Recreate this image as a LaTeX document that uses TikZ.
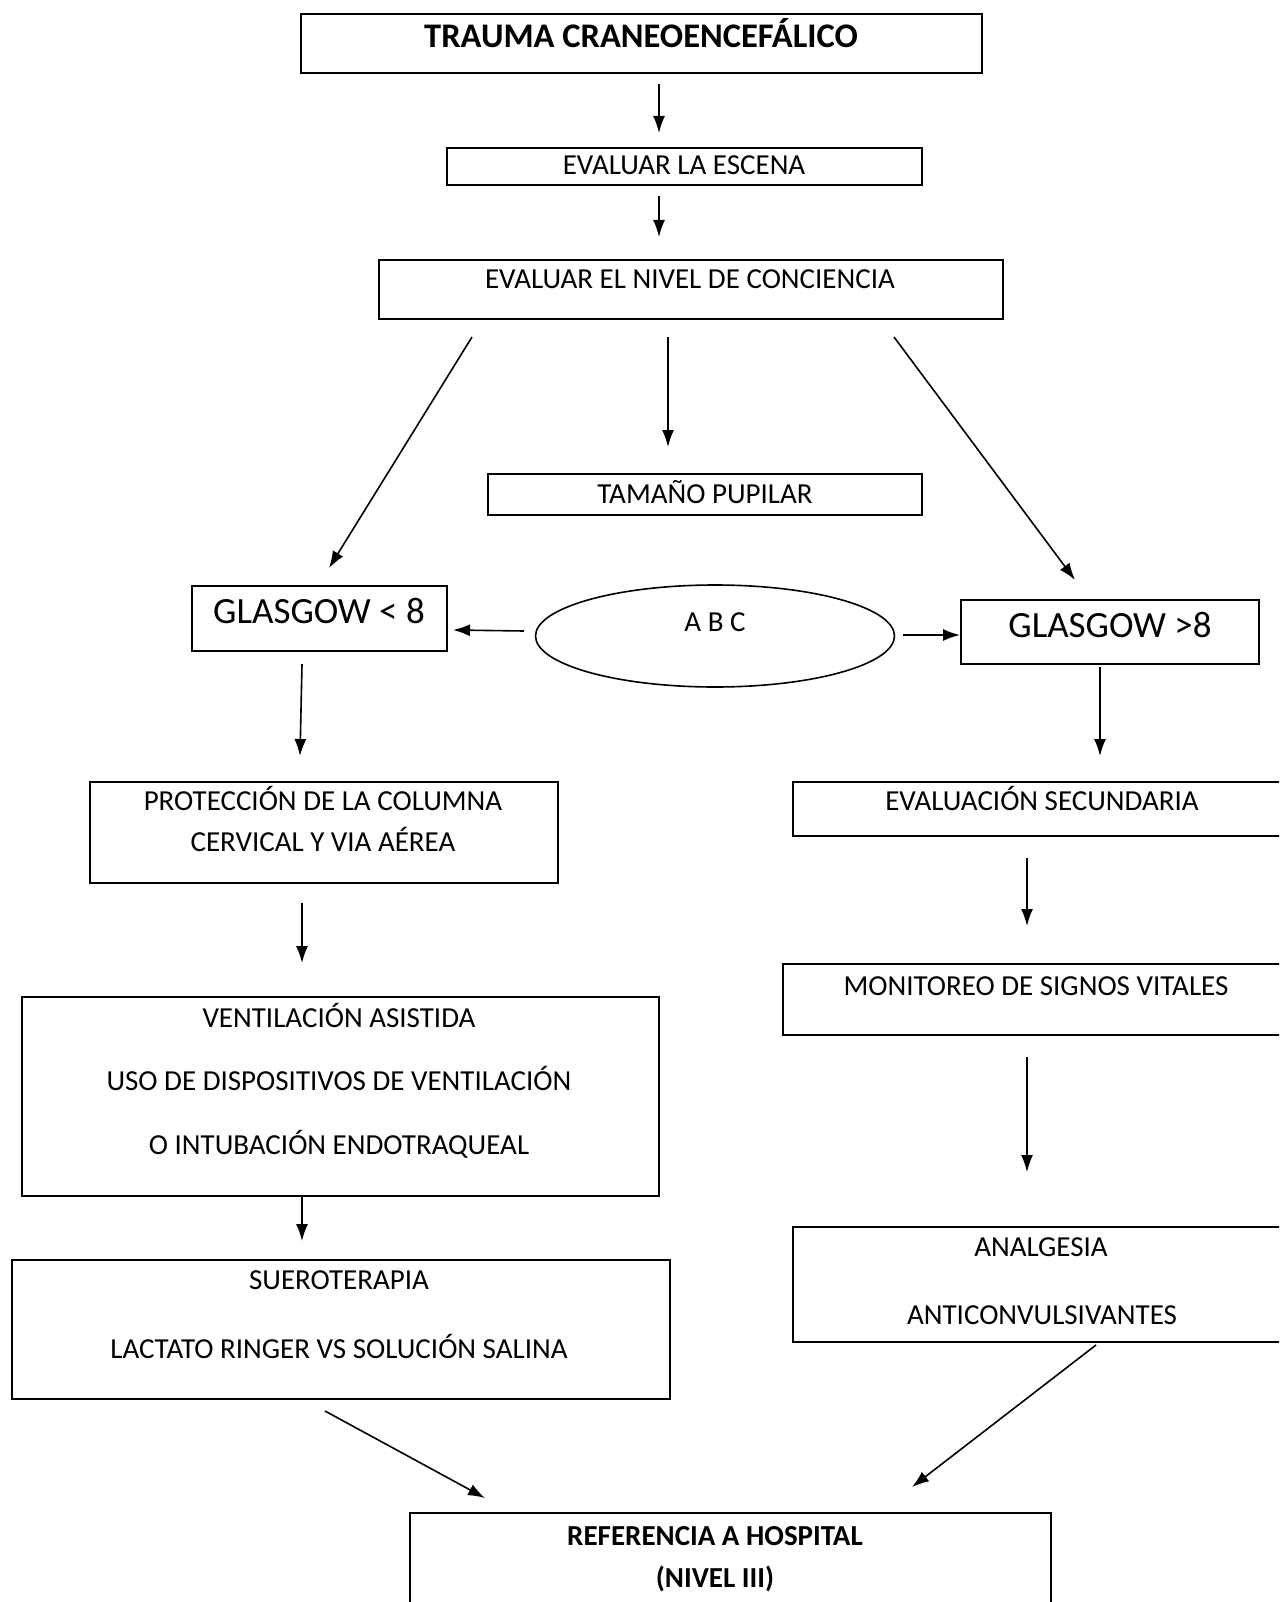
\documentclass[tikz,border=0pt]{standalone}
\usepackage{fontspec}
\setmainfont{Carlito}
\usetikzlibrary{arrows.meta,shapes.geometric}

\begin{document}
\begin{tikzpicture}[x=1pt,y=-1pt,
    box/.style={draw,line width=1.6pt,inner sep=0pt,anchor=north west},
    txt/.style={anchor=base,inner sep=0pt,font=\fontsize{29}{35}\selectfont},
    big/.style={anchor=base,inner sep=0pt,font=\fontsize{37}{44}\selectfont},
    head/.style={anchor=base,inner sep=0pt,font=\fontsize{29}{35}\selectfont\bfseries},
    flow/.style={line width=1.6pt,-{Latex[length=17pt,width=12pt]}}]
    \useasboundingbox (0,0) rectangle (1279,1602);
    \clip (0,0) rectangle (1279,1602);

    % boxes: name / left / top / right / bottom
    \foreach \n/\xa/\ya/\xb/\yb in {trauma/300/13/981/72, escena/446/147/921/184,
      nivel/378/259/1002/318, pupilar/487/473/921/514,
      glow/191/585/446/650, ghigh/960/599/1258/663,
      proteccion/89/781/557/882, secundaria/792/781/1295/835,
      ventilacion/21/996/658/1195, monitoreo/782/963/1295/1034,
      suero/11/1259/669/1398, analgesia/792/1226/1295/1341,
      referencia/409/1512/1050/1625} {
      \node[box,minimum width=\xb-\xa,minimum height=\yb-\ya] (\n) at (\xa,\ya) {};
    }
    \node[draw,ellipse,line width=1.6pt,inner sep=0pt,
      minimum width=359,minimum height=102] (abc) at (715,636) {};

    \node[head,font=\fontsize{34.5}{41}\selectfont\bfseries] (t_trauma) at (641,48) {TRAUMA CRANEOENCEFÁLICO};
    \node[txt] (t_escena) at (684,175) {EVALUAR LA ESCENA};
    \node[txt] (t_nivel) at (690,289) {EVALUAR EL NIVEL DE CONCIENCIA};
    \node[txt] (t_pupilar) at (705,503) {TAMAÑO PUPILAR};
    \node[big] (t_glow) at (319,623) {GLASGOW < 8};
    \node[txt] (t_abc) at (715,631) {A B C};
    \node[big] (t_ghigh) at (1110,637) {GLASGOW >8};
    \node[txt] (t_prot1) at (323,810) {PROTECCIÓN DE LA COLUMNA};
    \node[txt] (t_prot2) at (323,851) {CERVICAL Y VIA AÉREA};
    \node[txt] (t_sec) at (1042,810) {EVALUACIÓN SECUNDARIA};
    \node[txt] (t_vent1) at (339,1027) {VENTILACIÓN ASISTIDA};
    \node[txt] (t_vent2) at (339,1090) {USO DE DISPOSITIVOS DE VENTILACIÓN};
    \node[txt] (t_vent3) at (339,1154) {O INTUBACIÓN ENDOTRAQUEAL};
    \node[txt] (t_mon) at (1036,995) {MONITOREO DE SIGNOS VITALES};
    \node[txt] (t_suero1) at (339,1289) {SUEROTERAPIA};
    \node[txt] (t_suero2) at (339,1358) {LACTATO RINGER VS SOLUCIÓN SALINA};
    \node[txt] (t_anal1) at (1041,1256) {ANALGESIA};
    \node[txt] (t_anal2) at (1042,1324) {ANTICONVULSIVANTES};
    \node[head] (t_ref1) at (715,1545) {REFERENCIA A HOSPITAL};
    \node[head] (t_ref2) at (715,1587) {(NIVEL III)};

    % free ends of the arrows
    \foreach \a/\xa/\ya/\b/\xb/\yb in {trauma_o/659/84/escena_i/659/133,
      escena_o/659/196/nivel_i/659/237,
      nivel_l/472/337/glow_i/329/568, nivel_m/668/337/pupilar_i/668/447,
      nivel_r/894/337/ghigh_i/1075/580,
      abc_l/524/631/glow_r/453/630, abc_r/903/635/ghigh_l/960/635,
      glow_o/302/664/prot_i/300/756, ghigh_o/1100/667/sec_i/1100/756,
      prot_o/302/903/vent_i/302/963, sec_o/1027/858/mon_i/1027/926,
      mon_o/1027/1057/anal_i/1027/1172, vent_o/302/1197/suero_i/302/1241,
      suero_o/325/1411/ref_l/485/1498, anal_o/1096/1345/ref_r/912/1487} {
      \coordinate (\a) at (\xa,\ya);
      \coordinate (\b) at (\xb,\yb);
    }

    \begin{scope}[flow]
      \path
      (trauma_o) edge (escena_i)
      (escena_o) edge (nivel_i)
      (nivel_l) edge (glow_i)
      (nivel_m) edge (pupilar_i)
      (nivel_r) edge (ghigh_i);
      \path
      (abc_l) edge (glow_r)
      (abc_r) edge (ghigh_l)
      (glow_o) edge (prot_i)
      (ghigh_o) edge (sec_i)
      (prot_o) edge (vent_i)
      (sec_o) edge (mon_i)
      (mon_o) edge (anal_i)
      (vent_o) edge (suero_i)
      (suero_o) edge (ref_l)
      (anal_o) edge (ref_r);
    \end{scope}
\end{tikzpicture}
\end{document}
